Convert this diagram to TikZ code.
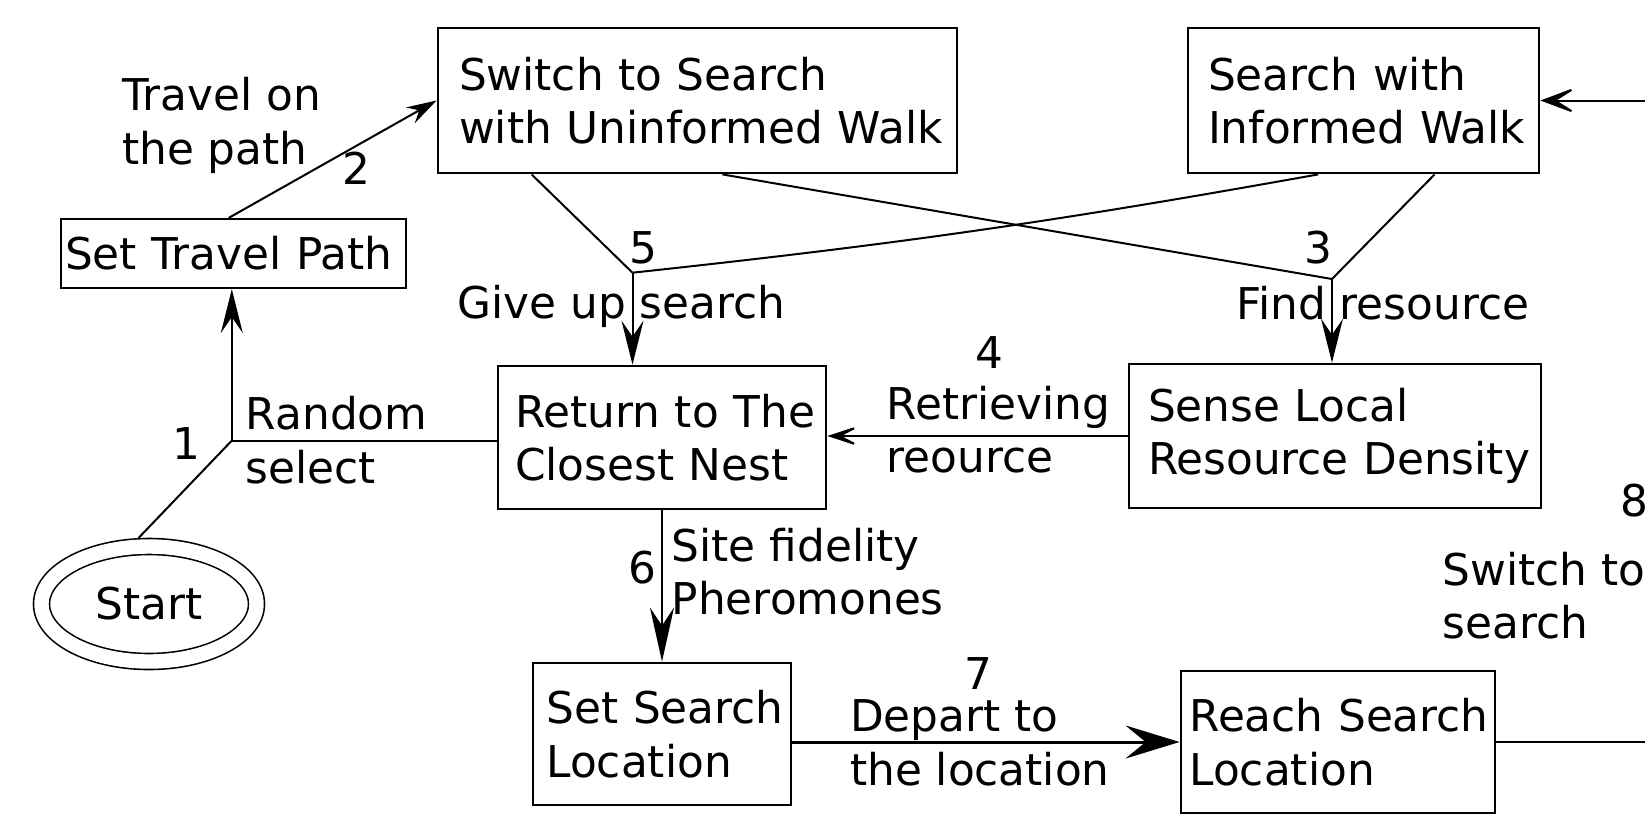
\documentclass[tikz,border=0pt]{standalone}
\usepackage{fontspec}
\setmainfont{DejaVu Sans}
\usetikzlibrary{arrows.meta,calc,shapes.geometric}

\begin{document}
\begin{tikzpicture}[x=0.5pt,y=-0.5pt,
  every node/.style={font=\fontsize{21.9pt}{26.8pt}\selectfont},
  state/.style={draw, line width=1.4pt, rectangle, align=left, inner ysep=0pt},
  lab/.style={inner sep=0pt, align=left, anchor=west},
  num/.style={inner sep=0pt},
  conn/.style={line width=1pt},
  tip/.style={-{Stealth[length=22pt,width=11pt,inset=8pt]}},
  tipsw/.style={-{Stealth[length=15pt,width=9pt,inset=5pt]}},
  tipret/.style={-{Stealth[length=19pt,width=12.5pt,inset=12pt]}},
  tipsite/.style={-{Stealth[length=27pt,width=12pt,inset=9pt]}},
  tipgo/.style={-{Stealth[length=27pt,width=16.5pt,inset=10pt]}},
  tipinf/.style={-{Stealth[length=20pt,width=15pt,inset=12pt]}},
]
\useasboundingbox (0,0) rectangle (1645,815);
\fill[white] (0,0) rectangle (1645,815);
\clip (0,0) rectangle (1645,815);

% states
\node[state, text width=238.5pt, inner xsep=10.5pt, minimum height=72.5pt] (sw) at (697.5,100.5)
  {\mbox{Switch to Search}\\\mbox{with Uninformed Walk}};
\node[state, text width=155.5pt, inner xsep=10pt, minimum height=72.5pt] (inf) at (1363.5,100.5)
  {\mbox{Search with}\\\mbox{Informed Walk}};
\node[state, line width=1.1pt, text width=168.5pt, inner xsep=2pt, minimum height=34.5pt] (stp) at (233.5,253.5)
  {\mbox{Set Travel Path}};
\node[state, text width=147pt, inner xsep=8.5pt, minimum height=71.5pt] (ret) at (662,437.5)
  {\mbox{Return to The}\\\mbox{Closest Nest}};
\node[state, text width=187pt, inner xsep=9.5pt, minimum height=72pt] (sen) at (1335,436)
  {\mbox{Sense Local}\\\mbox{Resource Density}};
\node[state, text width=115.5pt, inner xsep=6.75pt, minimum height=71pt] (sloc) at (662,734)
  {\mbox{Set Search}\\\mbox{Location}};
\node[state, text width=148.5pt, inner xsep=4.25pt, minimum height=71pt] (reach) at (1338,742)
  {\mbox{Reach Search}\\\mbox{Location}};
\node[draw, ellipse, double, double distance=7.2pt, line width=0.8pt,
      minimum width=107.5pt, minimum height=57.5pt, inner sep=0pt, outer sep=4.4pt] (start) at (149,604) {Start};

% junctions
\coordinate (j1) at (231.8,440.6);
\coordinate (j5) at (632.5,272.7);
\coordinate (j3) at (1332,279);
\coordinate (far) at (1700,0);

% transitions
\draw[conn] (start.99) -- (j1);
\draw[conn,tip] (j1) -- (j1 |- stp.south);
\draw[conn] (j1) -- (j1 -| ret.west);
\draw[conn,tipsw] ([xshift=-2.4pt]stp.north) -- (sw.west);
\draw[conn] ($(sw.south west)+(95,0)$) -- (j5);
\draw[conn] ($(inf.south west)+(131.6,0)$) to[bend left=2] (j5);
\draw[conn,tip] (j5) -- (j5 |- ret.north);
\draw[conn] ($(sw.south west)+(285.8,0)$) -- (j3);
\draw[conn] ($(inf.south west)+(248,0)$) -- (j3);
\draw[conn,tip] (j3) -- (j3 |- sen.north);
\draw[conn,tipret] (sen.west) -- (sen.west -| ret.east);
\draw[conn,tipsite] (ret.south) -- (sloc.north);
\draw[line width=1.5pt,tipgo] (reach.west -| sloc.east) -- (reach.west);
\draw[conn] (reach.east) -- (reach.east -| far);
\draw[conn,tipinf] (far |- inf.east) -- (inf.east);

% labels
\node[lab] (l2) at (121.7,125.4) {Travel on\\the path};
\node[num] (n2) at (356.7,167.8) {2};
\node[num] (n1) at (186.7,443.7) {1};
\node[lab] (l1) at (245.5,440) {Random\\select};
\node[num] (n5) at (643,247.6) {5};
\node[num] (l5) at (621.5,306.3) {Give up search};
\node[num] (n3) at (1318.6,247.6) {3};
\node[num] (l3) at (1382.6,303.2) {Find resource};
\node[num] (n4) at (989,352.5) {4};
\node[lab] (l4) at (886.4,429.6) {Retrieving\\reource};
\node[num] (n6) at (642,567.5) {6};
\node[lab] (l6) at (671.4,571.7) {Site fidelity\\Pheromones};
\node[num] (n7) at (978.7,674) {7};
\node[lab] (l7) at (849.7,742.6) {Depart to\\the location};
\node[num] (n8) at (1634,500.4) {8};
\node[lab] (l8) at (1442.4,595.8) {Switch to\\search};
\end{tikzpicture}
\end{document}
